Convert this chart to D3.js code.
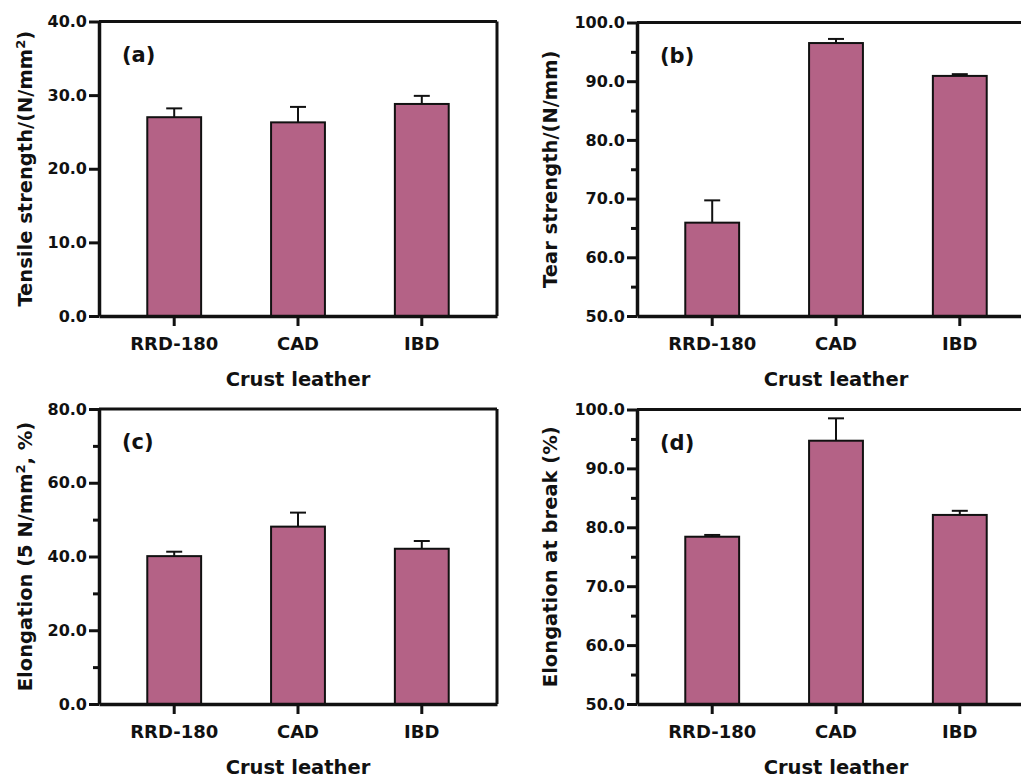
<!DOCTYPE html>
<html>
<head>
<meta charset="utf-8">
<script src="https://cdn.jsdelivr.net/npm/d3@7"></script>
<style>
  body { margin: 0; background: #fff; }
  svg text { font-family: "DejaVu Sans", sans-serif; font-weight: bold; fill: #111; }
</style>
</head>
<body>
<div id="chart"></div>
<script>
// Data
var categories = ["RRD-180", "CAD", "IBD"];

var tensile = [27.0, 26.3, 28.8];
var tensileErr = [1.2, 2.1, 1.1];

var tear = [65.9, 96.5, 90.9];
var tearErr = [3.8, 0.7, 0.3];

var elongation = [40.1, 48.1, 42.1];
var elongationErr = [1.2, 3.8, 2.1];

var breakElong = [78.4, 94.7, 82.1];
var breakElongErr = [0.3, 3.8, 0.7];

var ticksA = [0, 10, 20, 30, 40];
var ticksB = [50, 60, 70, 80, 90, 100];
var minorB = [55, 65, 75, 85, 95];
var ticksC = [0, 20, 40, 60, 80];
var minorC = [10, 30, 50, 70];

var barColor = "#b46286";

var svgWidth = 1021;
var svgHeight = 778;

var svg = d3.select("#chart")
  .append("svg")
  .attr("width", svgWidth)
  .attr("height", svgHeight);

svg.append("rect")
  .attr("width", svgWidth)
  .attr("height", svgHeight)
  .attr("fill", "#fff");

// one panel = one bar chart with upper error bars
function drawPanel(p) {
  var w = p.width, h = p.height;
  var g = svg.append("g").attr("transform", `translate(${p.left}, ${p.top})`);

  var x = d3.scaleBand()
    .domain(categories)
    .range([0, w])
    .paddingInner(0.565)
    .paddingOuter(0.39);

  var y = d3.scaleLinear()
    .domain(p.domain)
    .range([h, 0]);

  var data = categories.map((c, i) => ({ cat: c, v: p.values[i], e: p.errors[i] }));

  // bars
  g.selectAll("rect.bar")
    .data(data)
    .join("rect")
    .attr("class", "bar")
    .attr("x", d => x(d.cat))
    .attr("y", d => y(d.v))
    .attr("width", x.bandwidth())
    .attr("height", d => h - y(d.v))
    .attr("fill", barColor)
    .attr("stroke", "#111")
    .attr("stroke-width", 2);

  // error bars (upper only)
  var cap = 8;
  g.selectAll("line.err")
    .data(data)
    .join("line")
    .attr("class", "err")
    .attr("x1", d => x(d.cat) + x.bandwidth() / 2)
    .attr("x2", d => x(d.cat) + x.bandwidth() / 2)
    .attr("y1", d => y(d.v))
    .attr("y2", d => y(d.v + d.e))
    .attr("stroke", "#111")
    .attr("stroke-width", 2);

  g.selectAll("line.cap")
    .data(data)
    .join("line")
    .attr("class", "cap")
    .attr("x1", d => x(d.cat) + x.bandwidth() / 2 - cap)
    .attr("x2", d => x(d.cat) + x.bandwidth() / 2 + cap)
    .attr("y1", d => y(d.v + d.e))
    .attr("y2", d => y(d.v + d.e))
    .attr("stroke", "#111")
    .attr("stroke-width", 2);

  // frame (top and right)
  g.append("line")
    .attr("x1", 0).attr("x2", w).attr("y1", 0).attr("y2", 0)
    .attr("stroke", "#111").attr("stroke-width", 3);
  g.append("line")
    .attr("x1", w).attr("x2", w).attr("y1", 0).attr("y2", h)
    .attr("stroke", "#111").attr("stroke-width", 3);

  // minor ticks
  if (p.minor) {
    var minorAxis = d3.axisLeft(y)
      .tickValues(p.minor)
      .tickSize(6)
      .tickFormat("");
    var gm = g.append("g").call(minorAxis);
    gm.select(".domain").remove();
    gm.selectAll(".tick line").attr("stroke", "#111").attr("stroke-width", 3);
  }

  // left axis
  var leftAxis = d3.axisLeft(y)
    .tickValues(p.ticks)
    .tickSize(10)
    .tickSizeOuter(0)
    .tickPadding(2)
    .tickFormat(d3.format(".1f"));
  var gl = g.append("g").call(leftAxis);
  gl.select(".domain").attr("stroke", "#111").attr("stroke-width", 3.5);
  gl.selectAll(".tick line").attr("stroke", "#111").attr("stroke-width", 3);
  gl.selectAll(".tick text")
    .style("font-size", "16px")
    .attr("font-family", null)
    .attr("fill", "#111");

  // bottom axis
  var bottomAxis = d3.axisBottom(x)
    .tickSize(10)
    .tickSizeOuter(0)
    .tickPadding(11);
  var gb = g.append("g")
    .attr("transform", `translate(0, ${h})`)
    .call(bottomAxis);
  gb.select(".domain").attr("stroke", "#111").attr("stroke-width", 3.5);
  gb.selectAll(".tick line").attr("stroke", "#111").attr("stroke-width", 3);
  gb.selectAll(".tick text")
    .style("font-size", "18px")
    .attr("font-family", null)
    .attr("fill", "#111");

  // panel letter
  g.append("text")
    .attr("x", 23)
    .attr("y", 40)
    .style("font-size", "21px")
    .text(p.letter);

  // x title
  g.append("text")
    .attr("x", w / 2)
    .attr("y", h + 70)
    .attr("text-anchor", "middle")
    .style("font-size", "19.5px")
    .text("Crust leather");

  // y title
  var yt = g.append("text")
    .attr("transform", "rotate(-90)")
    .attr("x", -h / 2)
    .attr("y", -p.left + p.titleX)
    .attr("text-anchor", "middle")
    .style("font-size", "19.5px");
  p.title.forEach(part => {
    var t = yt.append("tspan").text(part.t);
    if (part.sup) t.attr("baseline-shift", "super").style("font-size", "13px");
  });
}

drawPanel({
  left: 99, top: 21.5, width: 398, height: 294.5,
  values: tensile, errors: tensileErr,
  domain: [0, 40], ticks: ticksA, minor: null,
  letter: "(a)", titleX: 32,
  title: [{ t: "Tensile strength/(N/mm" }, { t: "2", sup: true }, { t: ")" }]
});

drawPanel({
  left: 637, top: 22.5, width: 398, height: 293.5,
  values: tear, errors: tearErr,
  domain: [50, 100], ticks: ticksB, minor: minorB,
  letter: "(b)", titleX: 557,
  title: [{ t: "Tear strength/(N/mm)" }]
});

drawPanel({
  left: 99, top: 409, width: 398, height: 295,
  values: elongation, errors: elongationErr,
  domain: [0, 80], ticks: ticksC, minor: minorC,
  letter: "(c)", titleX: 32,
  title: [{ t: "Elongation (5 N/mm" }, { t: "2", sup: true }, { t: ", %)" }]
});

drawPanel({
  left: 637, top: 409.5, width: 398, height: 294.5,
  values: breakElong, errors: breakElongErr,
  domain: [50, 100], ticks: ticksB, minor: minorB,
  letter: "(d)", titleX: 557,
  title: [{ t: "Elongation at break (%)" }]
});
</script>
</body>
</html>
